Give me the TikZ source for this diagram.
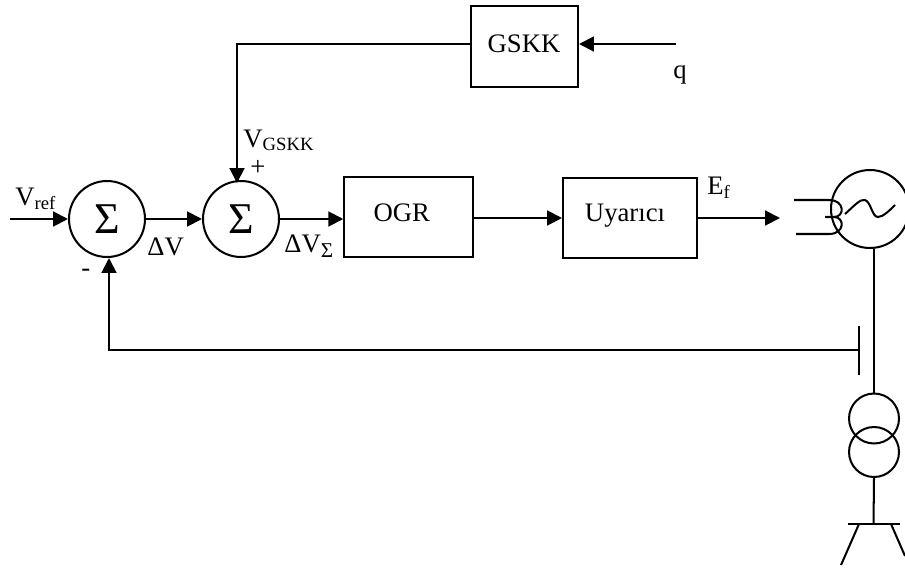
\documentclass[tikz,border=0pt]{standalone}
\usepackage{fontspec}
\setmainfont{Liberation Serif}
\usetikzlibrary{arrows.meta}
\tikzstyle{line} = [line width=1.15pt, black]
\tikzstyle{arrow} = [line, -{Triangle[length=8.5pt,width=8.5pt]}]
\tikzstyle{blockbox} = [draw, line width=1.15pt, rectangle, inner sep=0pt, font=\fontsize{15.2}{17}\selectfont]
\tikzstyle{sumnode} = [draw, line width=1.15pt, circle, inner sep=0pt, minimum size=1.52cm, font=\fontsize{25}{27}\selectfont]
\tikzstyle{lbl} = [inner sep=0pt, font=\fontsize{15.2}{17}\selectfont]
\begin{document}
\begin{tikzpicture}[x=0.02cm,y=-0.02cm]
    \clip (0,0) rectangle (905,568);

    % summing points and blocks
    \node[sumnode] (sumA) at (107,219) {Σ\hspace{5pt}};
    \node[sumnode] (sumB) at (241,219) {Σ\hspace{4pt}};
    \node[blockbox, minimum width=2.57cm, minimum height=1.6cm] (ogr) at (408.5,216.7) {};
    \node[blockbox, minimum width=2.68cm, minimum height=1.6cm] (uyarici) at (630,218) {};
    \node[blockbox, minimum width=2.14cm, minimum height=1.62cm] (gskk) at (524.5,46.5) {};

    % free ends
    \coordinate (ref) at (10,219);
    \coordinate (q) at (676,44);
    \coordinate (ef) at (780,218);
    \coordinate (tap) at (859,350);

    % signal path
    \draw[arrow] (ref) -- (sumA.west);
    \draw[arrow] (sumA.east) -- (sumB.west);
    \draw[arrow] (sumB.east) -- (sumB.east -| ogr.west);
    \draw[arrow] (ogr.east |- uyarici.west) -- (uyarici.west);
    \draw[arrow] (uyarici.east) -- (ef);
    \draw[arrow] (q) -- (q -| gskk.east);
    \draw[arrow] (q -| gskk.west) -| (237,183);
    \draw[arrow] (tap) -| ([xshift=0.04cm]sumA.south);

    % labels
    \node[lbl] (ogrlbl) at (401.7,212.7) {OGR};
    \node[lbl] (uyarlbl) at (625,216) {Uyarıcı};
    \node[lbl] (gskklbl) at (524,44) {GSKK};
    \node[lbl, anchor=base west] (vref) at (15,205) {V\textsubscript{ref}};
    \node[lbl, anchor=base west] (dv) at (147,255) {ΔV};
    \node[lbl, anchor=base west] (dvs) at (284,252) {ΔV\textsubscript{\fontsize{12}{12}\selectfont Σ}};
    \node[lbl, anchor=base west] (vgskk) at (243,147) {V\textsubscript{GSKK}};
    \node[lbl, anchor=base west] (plus) at (250,175) {+};
    \node[lbl, anchor=base west] (minus) at (81,276) {-};
    \node[lbl, anchor=base west] (qlbl) at (673,78) {q};
    \node[lbl, anchor=base west] (eflbl) at (707,194) {E\textsubscript{f}};

    % generator
    \node[draw, line width=1.15pt, circle, inner sep=0pt, minimum size=1.56cm] (gen) at (870,209) {};
    \draw[line] (794,200) -- (829,200) .. controls (845,200) and (845,217) .. (834,217) -- (825,217);
    \draw[line] (796,234) -- (829,234) .. controls (845,234) and (845,217) .. (834,217);
    \draw[line] (845,214) .. controls (855,205) and (860,199) .. (865,200) .. controls (871,202) and (872,217) .. (878,217) .. controls (883,217) and (890,210) .. (895,205);

    % transformer and bus
    \foreach \name/\y in {trA/418.5,trB/452} {
        \node[draw, line width=1.15pt, circle, inner sep=0pt, minimum size=1cm] (\name) at (874,\y) {};
    }
    \coordinate (bus) at (873.5,524);
    \draw[line] (gen.south -| trA.north) -- (trA.north);
    \draw[line] (trB.south) -- (bus);
    \draw[line] (859,326) -- (859,375);
    \draw[line] (848,524) -- (900,524);
    \draw[line] (859,524) -- (841,565);
    \draw[line] (891,524) -- (905,556);
\end{tikzpicture}
\end{document}
